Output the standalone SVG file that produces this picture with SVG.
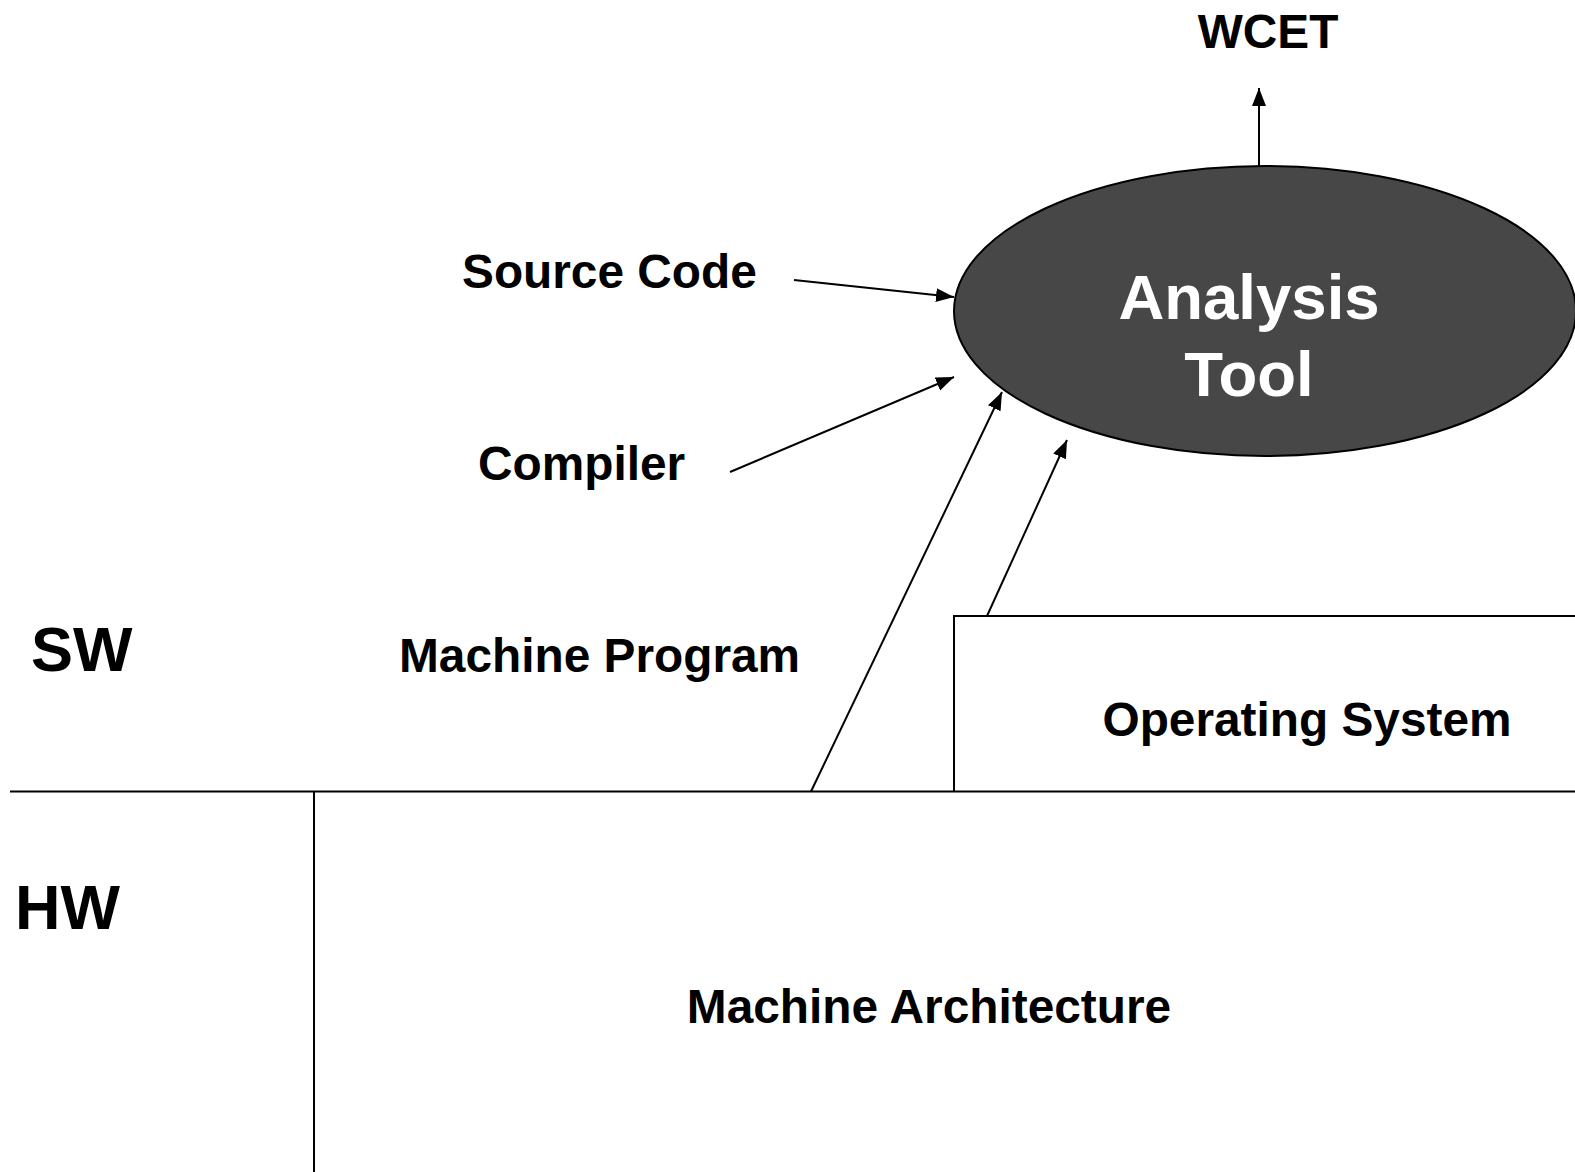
<svg xmlns="http://www.w3.org/2000/svg" width="1575" height="1172" viewBox="0 0 1575 1172">
  <style>
    .lbl { font-family: "Liberation Sans", Arial, Helvetica, sans-serif; font-weight: bold; fill: #000; }
    .med { font-size: 47.8px; }
    .big { font-size: 63px; }
    .tool { font-family: "Liberation Sans", Arial, Helvetica, sans-serif; font-weight: bold; font-size: 63.5px; fill: #fff; }
    .edge { stroke: #000; stroke-width: 2; fill: none; }
    .conn { stroke: #000; stroke-width: 2; fill: none; marker-end: url(#arrow); }
  </style>
  <defs>
    <marker id="arrow" markerUnits="userSpaceOnUse" markerWidth="19" markerHeight="15" refX="18" refY="7" orient="auto">
      <path d="M0,0 L18,7 L0,14 z" fill="#000"/>
    </marker>
  </defs>
  <rect width="1575" height="1172" fill="#fff"/>

  <!-- SW / HW layer divider -->
  <g id="layers">
    <line class="edge" x1="10" y1="791.5" x2="1575" y2="791.5"/>
    <line class="edge" x1="314" y1="791.5" x2="314" y2="1172"/>
    <text class="lbl big" x="31" y="671">SW</text>
    <text class="lbl big" x="15" y="929">HW</text>
  </g>

  <g id="analysis-tool">
    <ellipse cx="1265" cy="311" rx="311" ry="145" fill="#474747" stroke="#000" stroke-width="2"/>
    <text class="tool" x="1249" y="319" text-anchor="middle">Analysis</text>
    <text class="tool" x="1249" y="396" text-anchor="middle">Tool</text>
  </g>

  <g id="wcet">
    <text class="lbl med" x="1268" y="48" text-anchor="middle">WCET</text>
  </g>

  <g id="source-code">
    <text class="lbl med" x="462" y="288">Source Code</text>
  </g>

  <g id="compiler">
    <text class="lbl med" x="478" y="480">Compiler</text>
  </g>

  <g id="machine-program">
    <text class="lbl med" x="399" y="672">Machine Program</text>
  </g>

  <g id="operating-system">
    <polyline class="edge" points="954,791.5 954,616 1576,616"/>
    <text class="lbl med" x="1307" y="736" text-anchor="middle">Operating System</text>
  </g>

  <g id="machine-architecture">
    <text class="lbl med" x="929" y="1023" text-anchor="middle">Machine Architecture</text>
  </g>

  <!-- inputs into the analysis tool and its WCET result -->
  <g id="connectors">
    <line class="conn" x1="1259" y1="167" x2="1259" y2="88"/>
    <line class="conn" x1="794" y1="280" x2="954" y2="297"/>
    <line class="conn" x1="730" y1="472" x2="954" y2="377"/>
    <line class="conn" x1="811" y1="791.5" x2="1002" y2="392"/>
    <line class="conn" x1="987" y1="616" x2="1067" y2="440"/>
  </g>
</svg>
